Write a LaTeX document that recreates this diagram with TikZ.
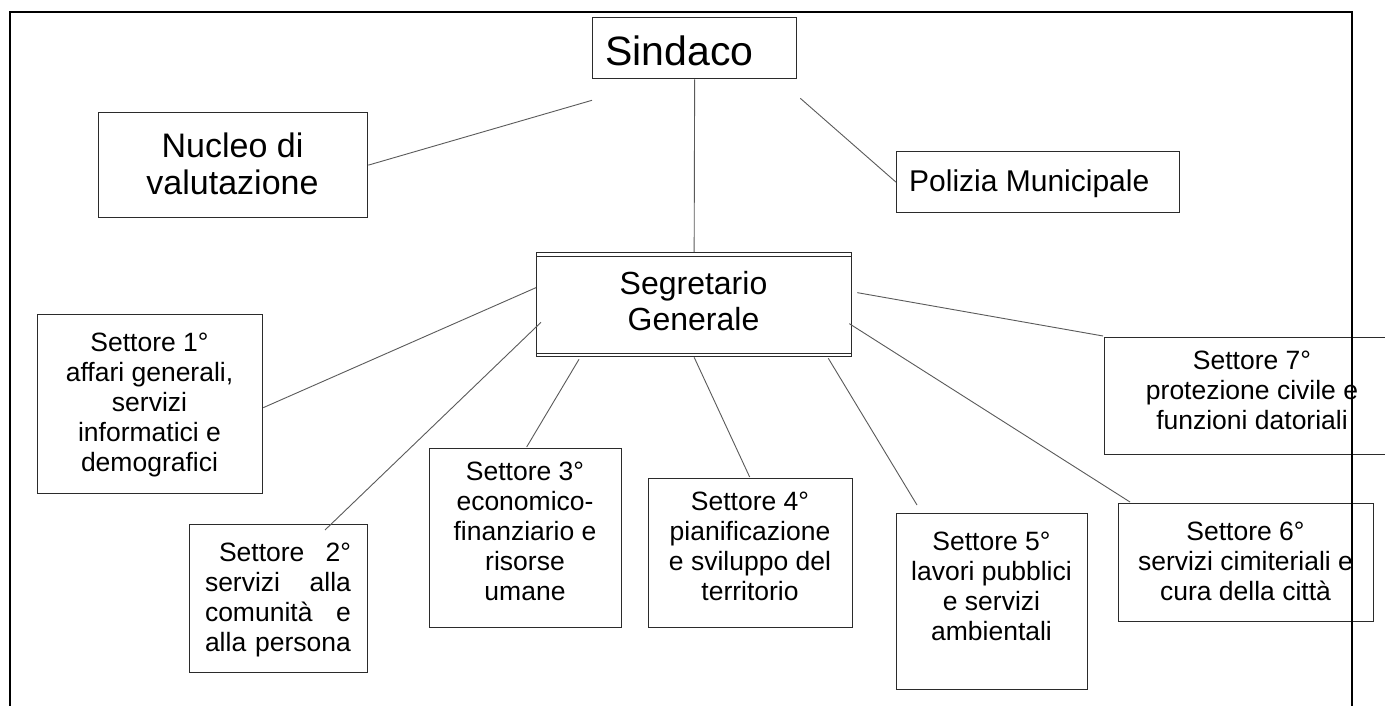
\documentclass[tikz,border=0pt]{standalone}
\usepackage{fontspec}
\setmainfont{Liberation Sans}
\definecolor{boxc}{HTML}{2B2B2B}
\definecolor{connc}{HTML}{5A5A5A}
\begin{document}
\begin{tikzpicture}[x=1pt,y=-1pt,
  box/.style={draw=boxc, line width=1.3pt, inner sep=0pt, anchor=north west},
  conn/.style={draw=connc, line width=0.9pt},
  stxt/.style={inner sep=0pt, anchor=north, align=center, font=\fontsize{26.5}{30}\selectfont},
  frame/.style={draw=black, line width=2.6pt}
]
\useasboundingbox (0,0) rectangle (1385,706);
\clip (0,0) rectangle (1385,706);
\fill[white] (0,0) rectangle (1385,706);

% boxes
\node[box, minimum width=204pt, minimum height=61pt] (sind) at (592,17) {};
\node[box, minimum width=269pt, minimum height=105pt] (nuc) at (98,112) {};
\node[box, minimum width=283pt, minimum height=61pt] (pol) at (896,151) {};
\node[box, minimum width=315pt, minimum height=104pt] (seg) at (536,252) {};
\draw[boxc, line width=1pt] ([yshift=-4pt]seg.north west) -- ([yshift=-4pt]seg.north east);
\draw[boxc, line width=1pt] ([yshift=4pt]seg.south west) -- ([yshift=4pt]seg.south east);
\node[box, minimum width=225pt, minimum height=179pt] (s1) at (37,314) {};
\node[box, minimum width=178pt, minimum height=148pt] (s2) at (189,524) {};
\node[box, minimum width=192pt, minimum height=179pt] (s3) at (429,448) {};
\node[box, minimum width=204pt, minimum height=149pt] (s4) at (648,478) {};
\node[box, minimum width=191pt, minimum height=176pt] (s5) at (896,513) {};
\node[box, minimum width=255pt, minimum height=118pt] (s6) at (1118,503) {};
\node[box, minimum width=300pt, minimum height=117pt] (s7) at (1104,337) {};

% texts
\node[anchor=base west, inner sep=0pt, font=\fontsize{41}{46}\selectfont] (sindt) at (605,66) {Sindaco};
\node[anchor=north, inner sep=0pt, align=center, font=\fontsize{34}{37}\selectfont] (nuct) at (232.5,132.5) {Nucleo di\\valutazione};
\node[anchor=base west, inner sep=0pt, font=\fontsize{30}{34}\selectfont] (polt) at (909,192) {Polizia Municipale};
\node[anchor=north, inner sep=0pt, align=center, font=\fontsize{32}{36}\selectfont] (segt) at (693.5,270.8) {Segretario\\Generale};
\node[stxt] (s1t) at (149.5,333) {Settore 1°\\affari generali,\\servizi\\informatici e\\demografici};
\node[stxt, align=left, text width=146pt] (s2t) at (278,543) {\hspace*{14pt}Settore\hfill 2°\\servizi\hfill alla\\comunità\hfill e\\alla persona};
\node[stxt] (s3t) at (525,462.2) {Settore 3°\\economico-\\finanziario e\\risorse\\umane};
\node[stxt] (s4t) at (750,492) {Settore 4°\\pianificazione\\e sviluppo del\\territorio};
\node[stxt] (s5t) at (991.5,532.2) {Settore 5°\\lavori pubblici\\e servizi\\ambientali};
\node[stxt] (s6t) at (1245.5,522.2) {Settore 6°\\servizi cimiteriali e\\cura della città};
\node[stxt] (s7t) at (1252,351.2) {Settore 7°\\protezione civile e\\funzioni datoriali};

% connectors
\draw[conn] (nuc.east) -- ([shift={(0,21)}]sind.south west);
\draw[conn] ([shift={(3,19)}]sind.south east) -- (pol.west);
\draw[conn] (sind.south) -- (seg.north);
\draw[conn] ([shift={(0,-17)}]seg.west) -- ([shift={(0,3.5)}]s1.east);
\draw[conn] ([shift={(5,-35)}]seg.south west) -- ([shift={(136,6)}]s2.north west);
\draw[conn] ([shift={(43,2)}]seg.south west) -- ([shift={(1,-1)}]s3.north);
\draw[conn] (seg.south) -- ([shift={(-1,-1)}]s4.north);
\draw[conn] ([shift={(-24,1)}]seg.south east) -- ([shift={(21,-8)}]s5.north west);
\draw[conn] ([shift={(-3,19)}]seg.east) -- ([shift={(12,-1)}]s6.north west);
\draw[conn] ([shift={(5,-12)}]seg.east) -- ([shift={(-1,-1)}]s7.north west);

% outer frame
\coordinate (fbl) at (10,712);
\coordinate (ftl) at (10,12);
\coordinate (ftr) at (1352,12);
\coordinate (fbr) at (1352,712);
\draw[frame] (fbl) -- (ftl) -- (ftr) -- (fbr);
\end{tikzpicture}
\end{document}
